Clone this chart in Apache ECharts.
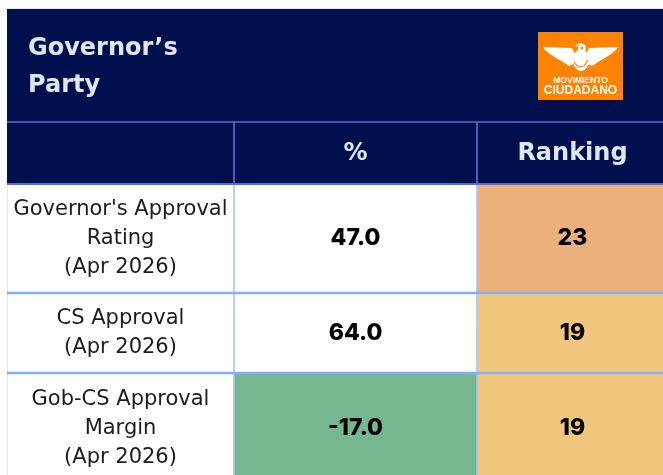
<!DOCTYPE html>
<html><head><meta charset="utf-8">
<script src="https://cdn.jsdelivr.net/npm/echarts@6/dist/echarts.min.js"></script>
<style>html,body{margin:0;padding:0;background:#fff}#c{width:663px;height:475px}</style>
</head><body><div id="c"></div>
<script>
// ---- data ----
const titleLines = ['Governor\u2019s', 'Party'];
const columnHeaders = ['', '%', 'Ranking'];
const rowLabels = ["Governor's Approval\nRating\n(Apr 2026)", "CS Approval\n(Apr 2026)", "Gob-CS Approval\nMargin\n(Apr 2026)"];
const percentValues = [47.0, 64.0, -17.0];
const rankingValues = [23, 19, 19];
const logoLines = ['MOVIMIENTO', 'CIUDADANO'];

// ---- layout & style ----
const HEAD_FONT = '"DejaVu Sans", sans-serif';
const LABEL_FONT = '"DejaVu Sans", sans-serif';
const VALUE_FONT = 'Inter, "Noto Sans", sans-serif';
const NAVY = '#00104e';
const HEAD_TEXT = '#dfe7ee';
const colEdges = [7, 234, 477, 668];
const rowEdges = [122, 184, 293, 373, 484];
function percentColor(v) { return v < 0 ? '#75b78f' : '#ffffff'; }
function rankColor(r) { return r >= 22 ? '#ebb07c' : '#f1c77e'; }

const cells = [];
for (let c = 0; c < 3; c++) cells.push({ value: [c, 0], text: columnHeaders[c], kind: 'head' });
for (let r = 0; r < rowLabels.length; r++) {
  cells.push({ value: [0, r + 1], text: rowLabels[r], kind: 'label' });
  cells.push({ value: [1, r + 1], text: percentValues[r].toFixed(1), kind: 'pct', fill: percentColor(percentValues[r]) });
  cells.push({ value: [2, r + 1], text: String(rankingValues[r]), kind: 'rank', fill: rankColor(rankingValues[r]) });
}

function renderCell(params, api) {
  const col = api.value(0), row = api.value(1);
  const d = cells[params.dataIndex];
  const p0 = api.coord([colEdges[col], rowEdges[row]]);
  const p1 = api.coord([colEdges[col + 1], rowEdges[row + 1]]);
  const x = p0[0], y = p0[1], w = p1[0] - p0[0], h = p1[1] - p0[1];
  const children = [];
  const fill = d.kind === 'head' ? NAVY : (d.fill || '#ffffff');
  children.push({ type: 'rect', z2: 0, shape: { x: x, y: y, width: w, height: h }, style: { fill: fill } });
  let topColor, topW;
  if (row === 0) { topColor = '#5d6cc4'; topW = 1.5; }
  else if (row === 1) { topColor = '#4f6fd6'; topW = 2; }
  else { topColor = '#7fb0ff'; topW = 2.5; }
  children.push({ type: 'line', z2: 10, shape: { x1: x, y1: y, x2: x + w, y2: y }, style: { stroke: topColor, lineWidth: topW } });
  if (col > 0) {
    children.push({ type: 'line', z2: 9, shape: { x1: x, y1: y, x2: x, y2: y + h },
      style: { stroke: row === 0 ? '#6776cc' : '#a8beff', lineWidth: 1.5 } });
  } else if (row > 0) {
    children.push({ type: 'line', z2: 9, shape: { x1: x + 0.5, y1: y, x2: x + 0.5, y2: y + h },
      style: { stroke: '#e4e7f6', lineWidth: 1 } });
  }
  let font, color, lh;
  if (d.kind === 'head') { font = 'bold 24px ' + HEAD_FONT; color = HEAD_TEXT; lh = 30; }
  else if (d.kind === 'label') { font = '21px ' + LABEL_FONT; color = '#1c1c1c'; lh = 29; }
  else { font = '800 23px ' + VALUE_FONT; color = '#000000'; lh = 30; }
  children.push({ type: 'text', z2: 20, style: {
    x: x + w / 2, y: y + h / 2 + (row === 0 ? 1 : 0), text: d.text, font: font, fill: color,
    align: 'center', verticalAlign: 'middle', lineHeight: lh } });
  return { type: 'group', children: children };
}

// simplified logo (eagle + lettering)
function mirror(pts) { return pts.map(p => [85 - p[0], p[1]]); }
const leftWing = [[5,15],[34,16],[37,22],[36,32],[31,34],[25,30],[18,26],[12,22],[7,18]];
const logo = {
  type: 'group', x: 538, y: 32, z: 1, children: [
    { type: 'rect', shape: { x: 0, y: 0, width: 85, height: 68 }, style: { fill: '#ff8300' } },
    { type: 'polygon', shape: { points: leftWing }, style: { fill: '#ffffff' } },
    { type: 'polygon', shape: { points: mirror(leftWing) }, style: { fill: '#ffffff' } },
    { type: 'ellipse', shape: { cx: 43, cy: 28, rx: 8, ry: 11 }, style: { fill: '#ffffff' } },
    { type: 'polyline', shape: { points: [[36,30],[40,35],[46,34],[50,28]] }, style: { stroke: '#ff8300', lineWidth: 1.2, fill: 'none' } },
    { type: 'circle', shape: { cx: 44, cy: 16, r: 4 }, style: { fill: '#ffffff' } },
    { type: 'circle', shape: { cx: 44, cy: 16, r: 1.5 }, style: { fill: '#ff8300' } },
    { type: 'polyline', shape: { points: [[38,14],[41,12],[44,12]] }, style: { stroke: '#ffffff', lineWidth: 1.5, fill: 'none' } },
    { type: 'text', style: { x: 42.5, y: 49, text: logoLines[0], font: 'bold 8.5px "Liberation Sans", Arial, sans-serif', fill: '#ffffff', align: 'center', verticalAlign: 'middle' } },
    { type: 'text', style: { x: 42.5, y: 59, text: logoLines[1], font: 'bold 12px "Liberation Sans", Arial, sans-serif', fill: '#ffffff', align: 'center', verticalAlign: 'middle' } }
  ]
};

const chart = echarts.init(document.getElementById('c'), null, { renderer: 'canvas' });
chart.setOption({
  animation: false,
  backgroundColor: '#ffffff',
  grid: { left: 0, top: 0, width: 663, height: 475, containLabel: false },
  xAxis: { type: 'value', min: 0, max: 663, show: false },
  yAxis: { type: 'value', min: 0, max: 475, inverse: true, show: false },
  graphic: [
    { type: 'line', shape: { x1: 7, y1: 8.5, x2: 668, y2: 8.5 }, style: { stroke: '#e2e5f0', lineWidth: 1 }, z: 0 },
    { type: 'rect', shape: { x: 7, y: 9, width: 661, height: 113 }, style: { fill: NAVY }, z: 0 },
    { type: 'text', style: { x: 28, y: 49, text: titleLines[0], font: 'bold 24px ' + HEAD_FONT, fill: HEAD_TEXT, verticalAlign: 'middle' }, z: 1 },
    { type: 'text', style: { x: 28, y: 86, text: titleLines[1], font: 'bold 24px ' + HEAD_FONT, fill: HEAD_TEXT, verticalAlign: 'middle' }, z: 1 },
    logo
  ],
  series: [{
    type: 'custom', renderItem: renderCell, clip: false,
    data: cells.map(c => c.value), z: 2
  }]
});
</script></body></html>
